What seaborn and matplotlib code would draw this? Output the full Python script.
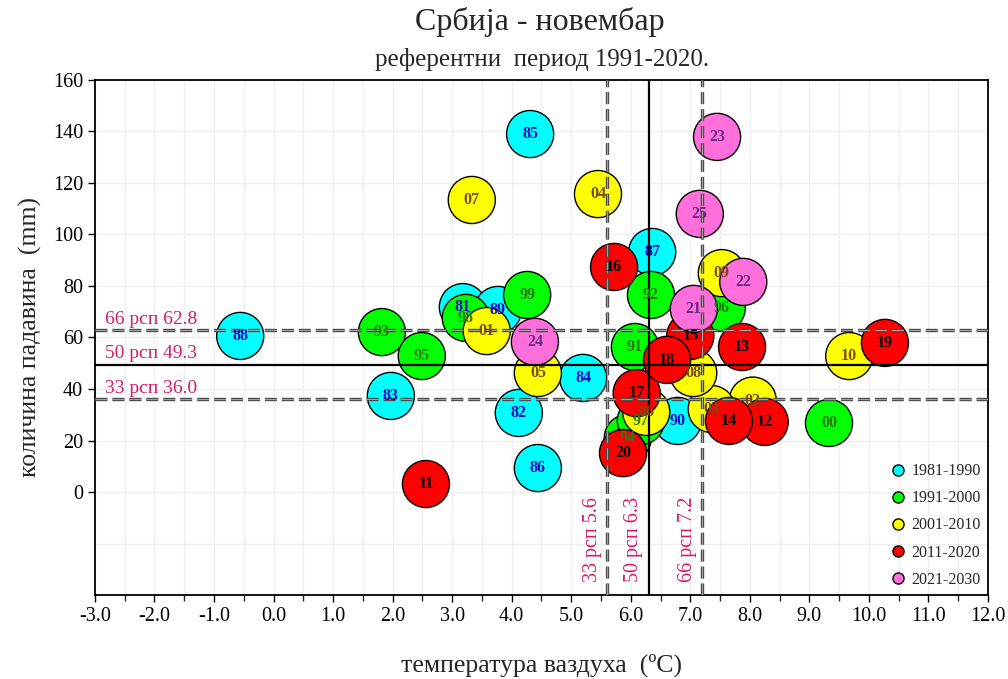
import matplotlib
matplotlib.use("Agg")
import matplotlib.pyplot as plt
from matplotlib.lines import Line2D
import numpy as np
import pandas as pd
import seaborn as sns

# November, Serbia: mean air temperature vs. precipitation, one circle per year
years = ["81", "82", "83", "84", "85", "86", "87", "88", "89", "90",
         "91", "92", "93", "94", "95", "96", "97", "98", "99", "00",
         "01", "02", "03", "04", "05", "06", "07", "08", "09", "10",
         "11", "12", "13", "14", "15", "16", "17", "18", "19", "20",
         "21", "22", "23", "24", "25"]
temperature = [3.18, 4.12, 1.97, 5.20, 4.31, 4.44, 6.36, -0.56, 3.77, 6.79,
               6.07, 6.34, 1.82, 5.95, 2.49, 7.53, 6.17, 3.23, 4.26, 9.33,
               3.58, 8.05, 7.36, 5.45, 4.44, 6.26, 3.33, 7.05, 7.53, 9.67,
               2.56, 8.25, 7.87, 7.65, 7.00, 5.72, 6.10, 6.61, 10.27, 5.87,
               7.06, 7.89, 7.45, 4.39, 7.16]
precipitation = [71.8, 30.7, 37.3, 44.3, 139.0, 9.3, 93.2, 60.6, 70.7, 27.6,
                 56.3, 76.5, 62.1, 21.0, 52.8, 71.5, 27.6, 67.6, 76.5, 26.8,
                 62.5, 35.5, 32.2, 115.7, 46.2, 31.1, 113.4, 46.2, 85.0, 52.8,
                 3.1, 27.2, 56.3, 27.6, 60.6, 87.4, 38.4, 51.3, 57.9, 15.1,
                 71.1, 81.6, 137.9, 58.3, 108.0]
decades = ["1981-1990"] * 10 + ["1991-2000"] * 10 + ["2001-2010"] * 10 \
    + ["2011-2020"] * 10 + ["2021-2030"] * 5

decade_names = ["1981-1990", "1991-2000", "2001-2010", "2011-2020", "2021-2030"]
fill_colors = ["#00FFFF", "#00FF00", "#FFFF00", "#FF0000", "#FF6FDB"]
text_colors = ["#0A0AC8", "#2A7A10", "#7A4A10", "#000000", "#6A2A88"]

# reference-period percentiles (1991-2020)
pct_names = ["33", "50", "66"]
temp_pct = [5.6, 6.3, 7.2]
prec_pct = [36.0, 49.3, 62.8]

x_ticks = np.arange(-3, 12.5, 1.0)
y_ticks = np.arange(0, 161, 20)

df = pd.DataFrame({"year": years, "temp": temperature,
                   "prec": precipitation, "decade": decades})

sns.set_theme(style="white")
plt.rcParams["font.family"] = ["Liberation Serif", "DejaVu Serif"]

fig = plt.figure(figsize=(10.08, 6.79), dpi=100)
ax = fig.add_axes([0.0942, 0.1237, 0.8859, 0.7585])

sns.scatterplot(data=df, x="temp", y="prec", hue="decade",
                hue_order=decade_names, palette=fill_colors,
                s=1150, edgecolor="black", linewidth=1.0, alpha=1.0,
                legend=False, ax=ax, zorder=3)

# year labels on the circles
for yr, t, p, d in zip(years, temperature, precipitation, decades):
    c = text_colors[decade_names.index(d)]
    ax.text(t, p, yr, ha="center", va="center", fontsize=11.5,
            fontweight="bold", color=c, zorder=6)

# percentile lines: solid median, double-edged dashed terciles
outer_lw, inner_lw = 2.4, 1.0
outer_dash = (0, (8.6 / outer_lw, 3.6 / outer_lw))
inner_dash = (0, (8.6 / inner_lw, 3.6 / inner_lw))
label_color = "#D81B6A"
for name, v in zip(pct_names, prec_pct):
    if name == "50":
        ax.axhline(v, color="black", lw=1.6, zorder=5)
    else:
        ax.axhline(v, color="#3a3a3a", lw=outer_lw, ls=outer_dash, zorder=5)
        ax.axhline(v, color="#a0a0a0", lw=inner_lw, ls=inner_dash, zorder=5.1)
    ax.text(-2.83, v + 1.0, f"{name} рсп {v:.1f}", color=label_color,
            fontsize=14, ha="left", va="bottom", zorder=6)
for name, v in zip(pct_names, temp_pct):
    if name == "50":
        ax.axvline(v, color="black", lw=1.6, zorder=5)
    else:
        ax.axvline(v, color="#3a3a3a", lw=outer_lw, ls=outer_dash, zorder=5)
        ax.axvline(v, color="#a0a0a0", lw=inner_lw, ls=inner_dash, zorder=5.1)
    ax.text(v - 0.09, -35, f"{name} рсп {v:.1f}", color=label_color,
            fontsize=14.5, ha="right", va="bottom", rotation=90, zorder=6)

ax.set_xlim(-3, 12)
ax.set_ylim(-40, 160)
ax.set_xticks(x_ticks)
ax.set_xticklabels([f"{v:.1f}" for v in x_ticks])
ax.set_xticks(np.arange(-2.5, 12, 1.0), minor=True)
ax.set_yticks(y_ticks)
ax.set_yticklabels([f"{v:d}" for v in y_ticks])
ax.set_yticks([-20], minor=True)

ax.grid(True, which="both", color="#EFEFEF", lw=1.0, zorder=0)
ax.set_axisbelow(True)
ax.tick_params(axis="both", which="major", labelsize=14.5, length=5,
               width=1, direction="out", color="black", labelcolor="black",
               bottom=True, left=True)
ax.tick_params(axis="x", which="minor", length=4, width=1, bottom=True)
ax.tick_params(axis="y", which="minor", length=0)
for sp in ax.spines.values():
    sp.set_color("black")
    sp.set_linewidth(1.3)

ax.set_xlabel("температура ваздуха  (ºC)", fontsize=18.5, labelpad=20)
ax.set_ylabel("количина падавина  (mm)", fontsize=18.5, labelpad=8)

fig.text(0.536, 0.968, "Србија - новембар", ha="center", va="center", fontsize=23)
fig.text(0.5375, 0.913, "референтни  период 1991-2020.", ha="center", va="center", fontsize=18)

handles = [Line2D([], [], marker="o", ls="none", markersize=8,
                  markerfacecolor=fc, markeredgecolor="black", markeredgewidth=1)
           for fc in fill_colors]
ax.legend(handles, decade_names, loc="lower right", frameon=False,
          fontsize=11.5, handletextpad=0.35, handlelength=1.0,
          labelspacing=0.7, borderaxespad=0.05,
          bbox_to_anchor=(1.0, 0.0))

fig.savefig("out.png", dpi=100, facecolor="white")
